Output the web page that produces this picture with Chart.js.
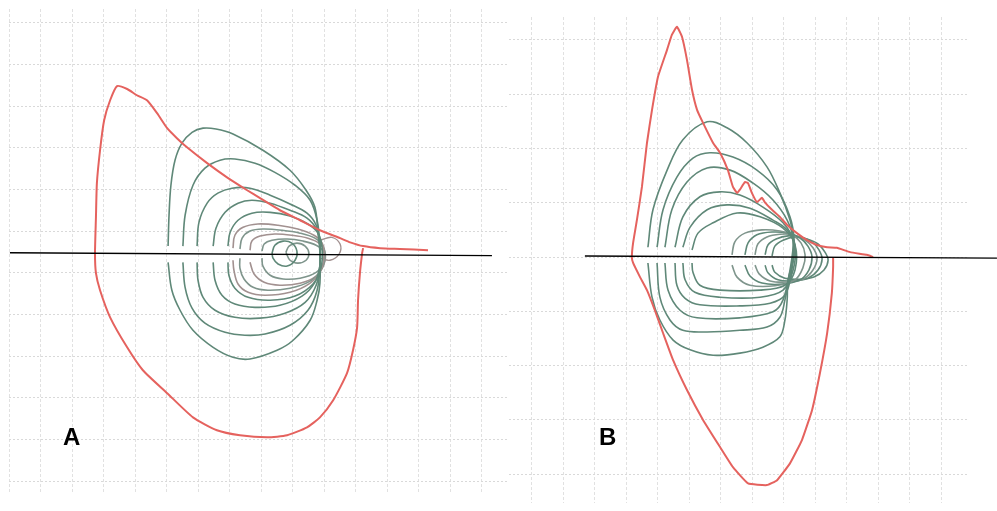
<!DOCTYPE html>
<html>
<head>
<meta charset="utf-8">
<script src="https://cdn.jsdelivr.net/npm/chart.js@4.4.1/dist/chart.umd.min.js"></script>
<style>
  html, body { margin: 0; padding: 0; background: #ffffff; }
  #wrap { position: relative; width: 997px; height: 511px; overflow: hidden; background: #fff; }
  canvas { position: absolute; top: 0; }
  #cA { left: 0; }
  #cB { left: 509px; }
  .lbl { position: absolute; font-family: "Liberation Sans", Arial, sans-serif; font-weight: bold; font-size: 24px; line-height: 24px; color: #000; }
</style>
</head>
<body>
<div id="wrap">
  <canvas id="cA" width="509" height="511" style="width:509px;height:511px"></canvas>
  <canvas id="cB" width="488" height="511" style="width:488px;height:511px"></canvas>
  <div class="lbl" style="left:63px;top:425px">A</div>
  <div class="lbl" style="left:599px;top:425px">B</div>
</div>
<script>
// ---------- Panel labels ----------
const panelLabels = ["A", "B"];

// ---------- Grid tick positions (volume / flow grid units) ----------
const xTicksA = [0,1,2,3,4,5,6,7,8,9,10,11,12,13,14,15];
const yTicksA = [-5.47,-4.47,-3.47,-2.47,-1.47,-0.47,0.53,1.53,2.53,3.53,4.53,5.53];
const xTicksB = [0,1,2,3,4,5,6,7,8,9,10,11,12,13];
const yTicksB = [-4,-3,-2,-1,0,1,2,3,4];

// ---------- Panel A : zero-flow line ----------
const zeroLineA = [[0.03,0.01],[15.33,-0.06]];

// ---------- Panel A : maximal (red) flow-volume loop ----------
const redA = [
  [13.30,0.07],[12.41,0.10],[11.78,0.12],[11.24,0.17],[10.83,0.26],[10.51,0.36],
  [9.87,0.55],[9.24,0.79],[8.60,1.03],[7.97,1.32],[7.56,1.51],[6.92,1.82],
  [6.29,2.16],[5.65,2.54],[5.33,2.76],[5.02,3.00],[4.70,3.36],[4.38,3.67],
  [4.06,3.79],[3.75,3.94],[3.43,4.01],[3.21,3.67],[3.02,3.19],[2.89,2.47],
  [2.79,1.68],[2.76,0.86],[2.73,0],[2.76,-0.48],[2.89,-0.89],[3.21,-1.54],
  [3.75,-2.26],[4.25,-2.81],[5.02,-3.36],[5.84,-3.94],[6.60,-4.25],[7.33,-4.37],
  [8.19,-4.42],[8.83,-4.37],[9.46,-4.18],[9.87,-3.94],[10.29,-3.53],[10.73,-2.88],
  [10.92,-2.33],[11.05,-1.78],[11.08,-1.13],[11.14,-0.48],[11.21,0],[11.24,0.12]
];

// ---------- Panel A : tidal (green) loops ----------
const loopA1 = [
  [5.05,0.17],[5.08,0.91],[5.14,1.63],[5.27,2.23],[5.49,2.64],[5.81,2.90],[6.16,3.00],
  [6.57,2.98],[7.11,2.86],[8.06,2.47],[8.92,1.99],[9.43,1.51],[9.71,1.10],[9.81,0.48],
  [9.87,0],[9.87,-0.72],[9.78,-1.13],[9.56,-1.61],[9.02,-2.09],[8.51,-2.33],[7.65,-2.54],
  [7.11,-2.50],[6.48,-2.26],[5.84,-1.85],[5.43,-1.37],[5.17,-0.89],[5.05,-0.22]
];
const loopA2 = [
  [5.52,0.17],[5.59,0.91],[5.84,1.63],[6.22,2.04],[6.70,2.23],[7.17,2.26],[7.81,2.16],
  [8.44,1.94],[9.08,1.63],[9.56,1.27],[9.78,0.79],[9.87,0.19],[9.87,-0.29],[9.78,-0.89],
  [9.49,-1.37],[8.92,-1.73],[8.13,-1.94],[7.49,-1.97],[6.86,-1.90],[6.22,-1.68],
  [5.81,-1.32],[5.59,-0.82],[5.52,-0.22]
];
const loopA3 = [
  [5.97,0.17],[6.03,0.74],[6.29,1.20],[6.63,1.44],[7.08,1.56],[7.65,1.56],[8.29,1.39],
  [8.92,1.18],[9.46,0.96],[9.75,0.67],[9.87,0.19],[9.87,-0.29],[9.75,-0.77],[9.40,-1.18],
  [8.76,-1.44],[7.97,-1.56],[7.17,-1.54],[6.54,-1.37],[6.16,-1.06],[6.00,-0.65],[5.97,-0.22]
];
const loopA4 = [
  [6.48,0.17],[6.57,0.60],[6.86,0.98],[7.27,1.20],[7.71,1.27],[8.29,1.20],[8.92,1.03],
  [9.46,0.84],[9.78,0.55],[9.87,0.19],[9.87,-0.29],[9.71,-0.70],[9.30,-1.03],[8.60,-1.25],
  [7.81,-1.30],[7.17,-1.22],[6.76,-1.01],[6.54,-0.65],[6.48,-0.22]
];
const loopA5 = [
  [6.95,0.17],[7.02,0.50],[7.27,0.79],[7.71,0.96],[8.29,0.98],[8.92,0.89],[9.49,0.70],
  [9.81,0.48],[9.94,0.12],[9.90,-0.36],[9.65,-0.74],[9.08,-1.03],[8.29,-1.13],[7.59,-1.06],
  [7.17,-0.84],[6.98,-0.53],[6.95,-0.22]
];
const loopA6 = [
  [7.11,0.12],[7.17,0.43],[7.43,0.62],[7.90,0.70],[8.54,0.67],[9.17,0.58],[9.68,0.43],
  [9.94,0.24],[10.00,-0.05],[9.90,-0.41],[9.56,-0.72],[8.92,-0.94],[8.13,-1.01],[7.59,-0.94],
  [7.27,-0.74],[7.14,-0.41],[7.11,-0.17]
];
const loopA7 = [
  [7.33,0.10],[7.40,0.36],[7.65,0.53],[8.06,0.58],[8.67,0.55],[9.24,0.48],[9.71,0.36],
  [9.97,0.17],[10.03,-0.10],[9.90,-0.41],[9.56,-0.67],[8.92,-0.84],[8.22,-0.89],[7.75,-0.82],
  [7.46,-0.62],[7.33,-0.36],[7.33,-0.12]
];
const loopA8 = [
  [7.65,0.07],[7.71,0.29],[7.97,0.41],[8.44,0.46],[8.98,0.43],[9.49,0.36],[9.84,0.24],
  [10.03,0.02],[10.00,-0.26],[9.75,-0.55],[9.24,-0.72],[8.60,-0.77],[8.10,-0.70],[7.78,-0.50],
  [7.65,-0.22]
];
const loopA9 = [
  [8.03,0.05],[8.10,0.22],[8.35,0.31],[8.83,0.34],[9.33,0.29],[9.75,0.19],[10.00,0.02],
  [10.00,-0.22],[9.75,-0.46],[9.24,-0.60],[8.70,-0.62],[8.29,-0.53],[8.06,-0.31],[8.03,-0.12]
];
const loopA10 = [
  [8.35,0],[8.44,0.19],[8.70,0.29],[8.98,0.24],[9.14,0.05],[9.08,-0.17],[8.83,-0.31],
  [8.54,-0.26],[8.38,-0.12],[8.35,0]
];
const loopA11 = [
  [8.79,0.02],[8.89,0.17],[9.14,0.24],[9.40,0.17],[9.52,0],[9.43,-0.17],[9.17,-0.24],
  [8.92,-0.17],[8.79,0.02]
];
const loopA12 = [
  [9.87,0.31],[10.25,0.38],[10.51,0.22],[10.48,-0.02],[10.19,-0.17],[9.87,-0.12]
];

// ---------- Panel B : zero-flow line ----------
const zeroLineB = [[1.68,0.02],[14.76,-0.02]];

// ---------- Panel B : maximal (red) flow-volume loop ----------
const redB = [
  [10.83,0],[10.63,0.04],[10.10,0.09],[9.68,0.17],[9.37,0.18],[9.05,0.22],[8.73,0.31],
  [8.41,0.44],[8.10,0.59],[7.87,0.74],[7.62,0.87],[7.40,1.00],[7.30,1.09],[7.14,1.01],
  [6.98,1.18],[6.86,1.36],[6.76,1.38],[6.60,1.24],[6.51,1.18],[6.38,1.29],[6.22,1.60],
  [5.97,1.92],[5.75,2.10],[5.43,2.47],[5.24,2.71],[5.08,3.08],[4.92,3.63],[4.76,4.06],
  [4.60,4.24],[4.44,4.09],[4.29,3.82],[4.00,3.32],[3.81,2.71],[3.65,2.10],[3.49,1.29],
  [3.33,0.68],[3.21,0.26],[3.17,0],[3.21,-0.11],[3.43,-0.37],[3.65,-0.61],[3.90,-0.98],
  [4.16,-1.40],[4.48,-1.90],[4.92,-2.45],[5.43,-3.00],[5.97,-3.50],[6.38,-3.87],
  [6.86,-4.17],[7.46,-4.20],[7.78,-4.11],[8.19,-3.80],[8.57,-3.37],[8.89,-2.82],
  [9.14,-2.14],[9.37,-1.40],[9.52,-0.66],[9.56,-0.18],[9.56,0]
];

// ---------- Panel B : tidal (green) loops ----------
const loopB1 = [
  [3.68,0.18],[3.84,0.87],[4.29,1.60],[4.79,2.16],[5.56,2.49],[6.19,2.38],[6.83,2.10],
  [7.46,1.66],[7.87,1.18],[8.19,0.68],[8.29,0.37],[8.32,0],[8.13,-0.42],[8.10,-0.79],
  [8.03,-1.16],[7.87,-1.47],[7.33,-1.66],[6.60,-1.77],[5.75,-1.81],[5.02,-1.71],
  [4.48,-1.53],[4.06,-1.16],[3.81,-0.74],[3.68,-0.11]
];
const loopB2 = [
  [3.97,0.18],[4.16,0.87],[4.60,1.47],[5.11,1.82],[5.65,1.92],[6.38,1.84],[7.14,1.60],
  [7.78,1.24],[8.19,0.74],[8.32,0.31],[8.25,-0.15],[8.03,-0.79],[7.87,-1.11],[7.46,-1.29],
  [6.60,-1.35],[5.56,-1.38],[4.79,-1.35],[4.38,-1.16],[4.06,-0.74],[3.97,-0.11]
];
const loopB3 = [
  [4.22,0.18],[4.44,0.87],[4.92,1.38],[5.56,1.64],[6.29,1.60],[7.02,1.36],[7.65,1.05],
  [8.10,0.68],[8.29,0.31],[8.19,-0.24],[7.97,-0.79],[7.65,-1.01],[6.60,-1.12],[5.24,-1.12],
  [4.70,-0.98],[4.32,-0.61],[4.22,-0.11]
];
const loopB4 = [
  [4.54,0.18],[4.79,0.74],[5.33,1.11],[5.97,1.20],[6.60,1.14],[7.33,0.92],[7.97,0.63],
  [8.29,0.31],[8.25,-0.24],[8.03,-0.70],[7.56,-0.85],[6.60,-0.90],[5.33,-0.88],[4.86,-0.76],
  [4.60,-0.52],[4.54,-0.11]
];
const loopB5 = [
  [4.79,0.18],[5.02,0.55],[5.56,0.87],[6.19,0.96],[6.92,0.90],[7.65,0.68],[8.10,0.50],
  [8.35,0.22],[8.29,-0.24],[7.97,-0.61],[7.24,-0.74],[5.97,-0.74],[5.17,-0.65],[4.86,-0.42],
  [4.79,-0.11]
];
const loopB6 = [
  [5.08,0.13],[5.27,0.44],[5.75,0.63],[6.51,0.81],[7.24,0.74],[7.97,0.53],[8.35,0.22],
  [8.35,-0.24],[8.03,-0.52],[7.24,-0.61],[5.97,-0.61],[5.33,-0.52],[5.11,-0.28],[5.08,-0.11]
];
const loopB7 = [
  [6.35,0.04],[6.44,0.28],[6.76,0.44],[7.30,0.50],[7.87,0.48],[8.25,0.41],[8.54,0.26],
  [8.67,0.04],[8.60,-0.20],[8.35,-0.42],[7.71,-0.53],[6.92,-0.52],[6.51,-0.37],[6.35,-0.15]
];
const loopB8 = [
  [6.76,0.04],[6.86,0.26],[7.14,0.41],[7.62,0.46],[8.13,0.44],[8.51,0.35],[8.76,0.20],
  [8.89,0],[8.79,-0.24],[8.51,-0.42],[7.94,-0.50],[7.30,-0.48],[6.92,-0.35],[6.76,-0.15]
];
const loopB9 = [
  [7.08,0.04],[7.17,0.24],[7.46,0.37],[7.87,0.42],[8.29,0.41],[8.67,0.31],[8.92,0.17],
  [9.05,-0.02],[8.92,-0.24],[8.60,-0.41],[8.10,-0.46],[7.56,-0.44],[7.21,-0.31],[7.08,-0.15]
];
const loopB10 = [
  [7.40,0.04],[7.49,0.22],[7.75,0.33],[8.13,0.39],[8.51,0.37],[8.89,0.28],[9.11,0.13],
  [9.21,-0.04],[9.08,-0.24],[8.76,-0.39],[8.29,-0.44],[7.81,-0.42],[7.49,-0.29],[7.40,-0.15]
];
const loopB11 = [
  [7.62,0.02],[7.71,0.20],[7.97,0.31],[8.35,0.37],[8.73,0.33],[9.08,0.24],[9.30,0.09],
  [9.40,-0.06],[9.27,-0.24],[8.95,-0.37],[8.51,-0.41],[8.03,-0.39],[7.71,-0.28],[7.62,-0.15]
];

// ---------- styles ----------
const RED = '#e5625e';
const GREEN = '#5f8878';
const GREEN_LIGHT = '#7f958c';
const PINKGRAY = '#a29190';

function pts(arr) { return arr.map(p => ({ x: p[0], y: p[1] })); }
function ds(arr, color, width, extra) {
  return Object.assign({
    data: pts(arr), showLine: true, borderColor: color, backgroundColor: color,
    borderWidth: width, pointRadius: 0, pointHoverRadius: 0, fill: false, tension: 0.35
  }, extra || {});
}

function makeChart(id, datasets, xr, yr, xt, yt, pad) {
  return new Chart(document.getElementById(id), {
    type: 'scatter',
    data: { datasets },
    options: {
      responsive: false, animation: false, devicePixelRatio: 1,
      layout: { padding: pad },
      plugins: { legend: { display: false }, tooltip: { enabled: false }, title: { display: false } },
      scales: {
        x: {
          type: 'linear', min: xr[0], max: xr[1],
          afterBuildTicks: s => { s.ticks = xt.map(v => ({ value: v })); },
          ticks: { display: false },
          grid: { color: '#e1e1e1', lineWidth: 1, drawTicks: false },
          border: { display: false, dash: [3, 2] }
        },
        y: {
          type: 'linear', min: yr[0], max: yr[1],
          afterBuildTicks: s => { s.ticks = yt.map(v => ({ value: v })); },
          ticks: { display: false },
          grid: { color: '#d9d9d9', lineWidth: 1, drawTicks: false },
          border: { display: false, dash: [2, 2] }
        }
      }
    }
  });
}

const dsA = [
  ds(zeroLineA, '#000000', 1.4, { tension: 0 }),
  ds(redA, RED, 2, { tension: 0.2 }),
  ds(loopA1, GREEN, 1.6), ds(loopA2, GREEN, 1.6), ds(loopA3, GREEN, 1.6),
  ds(loopA4, GREEN, 1.6), ds(loopA5, GREEN, 1.6), ds(loopA6, PINKGRAY, 1.6),
  ds(loopA7, GREEN_LIGHT, 1.6), ds(loopA8, PINKGRAY, 1.6), ds(loopA9, GREEN_LIGHT, 1.6),
  ds(loopA10, GREEN, 1.6), ds(loopA11, GREEN_LIGHT, 1.6), ds(loopA12, PINKGRAY, 1.4)
];
makeChart('cA', dsA, [0, 15.84], [-5.78, 5.86], xTicksA, yTicksA,
  { left: 9, right: 1, top: 9, bottom: 17 });

const dsB = [
  ds(zeroLineB, '#000000', 1.4, { tension: 0, clip: false }),
  ds(redB, RED, 2, { tension: 0.12 }),
  ds(loopB1, GREEN, 1.6), ds(loopB2, GREEN, 1.6), ds(loopB3, GREEN, 1.6),
  ds(loopB4, GREEN, 1.6), ds(loopB5, GREEN, 1.6), ds(loopB6, GREEN, 1.6),
  ds(loopB7, GREEN_LIGHT, 1.6), ds(loopB8, GREEN, 1.6), ds(loopB9, GREEN_LIGHT, 1.6),
  ds(loopB10, GREEN, 1.6), ds(loopB11, GREEN, 1.6)
];
makeChart('cB', dsB, [-0.73, 13.81], [-4.53, 4.42], xTicksB, yTicksB,
  { left: 0, right: 30, top: 17, bottom: 8 });
</script>
</body>
</html>
